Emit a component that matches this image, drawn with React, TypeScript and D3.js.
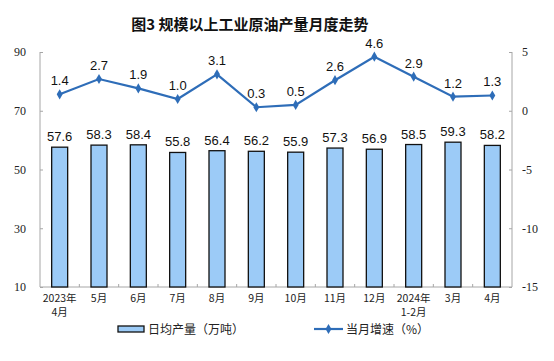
import React, { useRef, useEffect } from 'react';
import * as d3 from 'd3';

const categories = ['2023年\n4月', '5月', '6月', '7月', '8月', '9月', '10月', '11月', '12月', '2024年\n1-2月', '3月', '4月'];
const dailyOutput = [57.6, 58.3, 58.4, 55.8, 56.4, 56.2, 55.9, 57.3, 56.9, 58.5, 59.3, 58.2];
const growth = [1.4, 2.7, 1.9, 1.0, 3.1, 0.3, 0.5, 2.6, 4.6, 2.9, 1.2, 1.3];
const leftTicks = [10, 30, 50, 70, 90];
const rightTicks = [-15, -10, -5, 0, 5];

const App: React.FC = () => {
  const ref = useRef<SVGSVGElement | null>(null);

  useEffect(() => {
    if (!ref.current) return;
    const svg = d3.select(ref.current);
    svg.selectAll('*').remove();

    const left = 40;
    const right = 512;
    const top = 52;
    const bottom = 287;
    const axisColor = '#a6a6a6';
    const serif = '"Liberation Serif", "Times New Roman", serif';
    const cjk = '"Noto Sans CJK SC", sans-serif';
    const sans = '"Liberation Sans", Arial, sans-serif';

    const x = d3.scaleBand().domain(categories).range([left, right]);
    const yL = d3.scaleLinear().domain([10, 90]).range([bottom, top]);
    const yR = d3.scaleLinear().domain([-15, 5]).range([bottom, top]);

    // title
    svg.append('text')
      .attr('x', 250).attr('y', 30)
      .attr('text-anchor', 'middle')
      .attr('font-family', cjk)
      .attr('font-weight', 'bold')
      .attr('font-size', 15)
      .attr('fill', '#111')
      .text('图3 规模以上工业原油产量月度走势');

    // left axis
    const gl = svg.append('g').attr('transform', `translate(${left},0)`)
      .call(d3.axisLeft(yL).tickValues(leftTicks).tickSize(-3).tickPadding(14));
    gl.select('.domain').attr('stroke', axisColor).attr('d', `M0,${top}V${bottom}`);
    gl.selectAll('.tick line').attr('stroke', axisColor);
    gl.selectAll('.tick text').attr('font-family', serif).attr('font-size', 12).attr('fill', '#222');

    // right axis
    const gr = svg.append('g').attr('transform', `translate(${right},0)`)
      .call(d3.axisRight(yR).tickValues(rightTicks).tickSize(-3).tickPadding(10)
        .tickFormat((d) => String(d)));
    gr.select('.domain').attr('stroke', axisColor).attr('d', `M0,${top}V${bottom}`);
    gr.selectAll('.tick line').attr('stroke', axisColor);
    gr.selectAll('.tick text').attr('font-family', serif).attr('font-size', 12).attr('fill', '#222');

    // bottom axis
    svg.append('line')
      .attr('x1', left).attr('x2', right).attr('y1', bottom).attr('y2', bottom)
      .attr('stroke', axisColor);
    svg.append('g').selectAll('line')
      .data(categories.slice(1))
      .enter().append('line')
      .attr('x1', (d) => x(d)!).attr('x2', (d) => x(d)!)
      .attr('y1', bottom).attr('y2', bottom - 3)
      .attr('stroke', axisColor);

    const labels = svg.append('g').selectAll('text')
      .data(categories)
      .enter().append('text')
      .attr('text-anchor', 'middle')
      .attr('font-family', cjk)
      .attr('font-size', 10.5)
      .attr('fill', '#222');
    labels.each(function (d) {
      const t = d3.select(this);
      d.split('\n').forEach((line, i) => {
        t.append('tspan')
          .attr('x', x(d)! + x.bandwidth() / 2)
          .attr('y', 302 + i * 14)
          .text(line);
      });
    });

    // bars
    const bw = 16;
    svg.append('g').selectAll('rect')
      .data(dailyOutput)
      .enter().append('rect')
      .attr('x', (d, i) => x(categories[i])! + x.bandwidth() / 2 - bw / 2)
      .attr('y', (d) => yL(d))
      .attr('width', bw)
      .attr('height', (d) => bottom - yL(d))
      .attr('fill', '#9ccbf7')
      .attr('stroke', '#111')
      .attr('stroke-width', 1.3);

    svg.append('g').selectAll('text')
      .data(dailyOutput)
      .enter().append('text')
      .attr('x', (d, i) => x(categories[i])! + x.bandwidth() / 2)
      .attr('y', (d) => yL(d) - 6)
      .attr('text-anchor', 'middle')
      .attr('font-family', sans)
      .attr('font-size', 13)
      .attr('fill', '#111')
      .text((d) => d.toFixed(1));

    // growth line
    const lineColor = '#2e6db8';
    const cx = (i: number) => x(categories[i])! + x.bandwidth() / 2;
    const line = d3.line<number>().x((d, i) => cx(i)).y((d) => yR(d));
    svg.append('path')
      .datum(growth)
      .attr('d', line)
      .attr('fill', 'none')
      .attr('stroke', lineColor)
      .attr('stroke-width', 2.2);

    const diamond = d3.symbol().type(d3.symbolDiamond).size(30);
    svg.append('g').selectAll('path')
      .data(growth)
      .enter().append('path')
      .attr('d', diamond)
      .attr('transform', (d, i) => `translate(${cx(i)},${yR(d)})`)
      .attr('fill', lineColor);

    svg.append('g').selectAll('text')
      .data(growth)
      .enter().append('text')
      .attr('x', (d, i) => cx(i))
      .attr('y', (d) => yR(d) - 9)
      .attr('text-anchor', 'middle')
      .attr('font-family', sans)
      .attr('font-size', 13)
      .attr('fill', '#111')
      .text((d) => d.toFixed(1));

    // legend
    const lg = svg.append('g');
    lg.append('rect')
      .attr('x', 118).attr('y', 326).attr('width', 26).attr('height', 6)
      .attr('fill', '#9ccbf7').attr('stroke', '#111').attr('stroke-width', 1.3);
    lg.append('text')
      .attr('x', 148).attr('y', 334)
      .attr('font-family', cjk).attr('font-size', 12).attr('fill', '#222')
      .text('日均产量（万吨）');
    lg.append('line')
      .attr('x1', 314).attr('x2', 343).attr('y1', 329).attr('y2', 329)
      .attr('stroke', lineColor).attr('stroke-width', 2.2);
    lg.append('path')
      .attr('d', diamond)
      .attr('transform', 'translate(328.5,329)')
      .attr('fill', lineColor);
    lg.append('text')
      .attr('x', 346).attr('y', 334)
      .attr('font-family', cjk).attr('font-size', 12).attr('fill', '#222')
      .text('当月增速（%）');
  }, []);

  return <svg ref={ref} width={554} height={361} style={{ display: 'block', margin: -8 }} />;
};

export default App;
